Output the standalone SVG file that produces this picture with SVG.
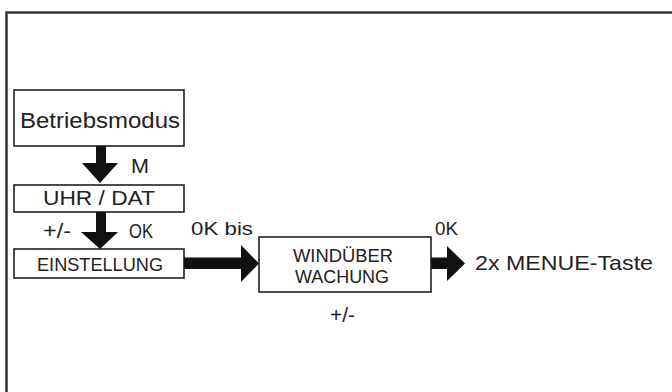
<svg xmlns="http://www.w3.org/2000/svg" width="672" height="392" viewBox="0 0 672 392">
<style>
.box{fill:#fff;stroke:#111;stroke-width:1.5}
.t{font-family:"Liberation Sans",Arial,sans-serif;fill:#222}
.arr{fill:#111;stroke:none}
</style>
<rect x="0" y="0" width="672" height="392" fill="#fff"/>
<path d="M6.5,400 V12.5 H680" fill="none" stroke="#333" stroke-width="2.5"/>
<g id="betriebsmodus">
<rect class="box" x="14" y="90" width="170" height="56"/>
<text class="t" x="20" y="128" font-size="22" textLength="160" lengthAdjust="spacingAndGlyphs">Betriebsmodus</text>
</g>
<g id="uhrdat">
<rect class="box" x="14" y="185" width="170" height="27"/>
<text class="t" x="43" y="205" font-size="21" textLength="112" lengthAdjust="spacingAndGlyphs">UHR / DAT</text>
</g>
<g id="einstellung">
<rect class="box" x="14" y="249" width="170" height="29"/>
<text class="t" x="37" y="271" font-size="18" textLength="126" lengthAdjust="spacingAndGlyphs">EINSTELLUNG</text>
</g>
<g id="windueberwachung">
<rect class="box" x="259" y="237" width="172" height="55"/>
<text class="t" x="293" y="262" font-size="18" textLength="100" lengthAdjust="spacingAndGlyphs">WINDÜBER</text>
<text class="t" x="295" y="283" font-size="18" textLength="94" lengthAdjust="spacingAndGlyphs">WACHUNG</text>
</g>
<g id="connectors">
<path class="arr" d="M96,146 H106 V163 H118 L100,183 L82,163 H96 Z"/>
<path class="arr" d="M96,212 H106 V232 H118 L100,249 L81,232 H96 Z"/>
<path class="arr" d="M184,257.5 H241 V245 L259,263.5 L241,282 V269 H184 Z"/>
<path class="arr" d="M431,257.5 H447 V246 L465,263.5 L447,281 V269 H431 Z"/>
</g>
<g id="labels">
<text class="t" x="131" y="173" font-size="20" textLength="18" lengthAdjust="spacingAndGlyphs">M</text>
<text class="t" x="43" y="238" font-size="20" textLength="28" lengthAdjust="spacingAndGlyphs">+/-</text>
<text class="t" x="129" y="238" font-size="20" textLength="24" lengthAdjust="spacingAndGlyphs">OK</text>
<text class="t" x="191" y="235" font-size="19" textLength="62" lengthAdjust="spacingAndGlyphs">0K  bis</text>
<text class="t" x="435" y="235" font-size="19" textLength="23" lengthAdjust="spacingAndGlyphs">0K</text>
<text class="t" x="330" y="322" font-size="20" textLength="25" lengthAdjust="spacingAndGlyphs">+/-</text>
<text class="t" x="475" y="270" font-size="21" textLength="178" lengthAdjust="spacingAndGlyphs">2x MENUE-Taste</text>
</g>
</svg>
